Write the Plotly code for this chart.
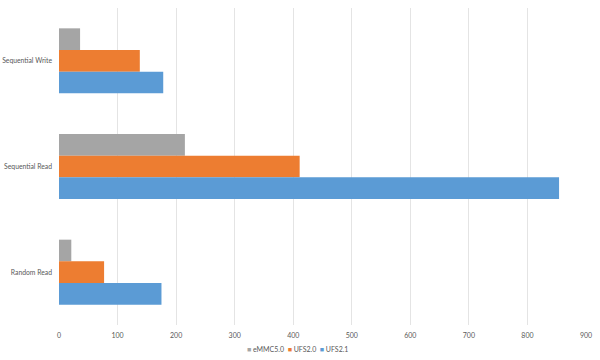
import plotly.graph_objects as go

categories = ["Sequential Write", "Sequential Read", "Random Read"]
emmc50 = [36, 215, 21]
ufs20 = [138, 411, 77]
ufs21 = [178, 854, 175]
series_names = ["eMMC5.0", "UFS2.0", "UFS2.1"]
colors = ["#A5A5A5", "#ED7D31", "#5B9BD5"]

fig = go.Figure()
for name, vals, col in zip(series_names, [emmc50, ufs20, ufs21], colors):
    fig.add_trace(go.Bar(y=categories, x=vals, name=name, orientation="h",
                         marker=dict(color=col, line=dict(width=0))))

legend_text = "&nbsp;&nbsp;".join(
    f"<span style='color:{c}'>■</span> {n}" for n, c in zip(series_names, colors))

fig.update_layout(
    width=600, height=360,
    margin=dict(l=59, r=14, t=8, b=35, autoexpand=False),
    barmode="group", bargap=0.385, bargroupgap=0,
    plot_bgcolor="white", paper_bgcolor="white",
    font=dict(family="Lato, sans-serif", size=7, color="#595959"),
    xaxis=dict(range=[0, 900], dtick=100, showgrid=True, gridcolor="#E4E4E4",
               gridwidth=1, zeroline=False, showline=False, ticks="",
               ticklabelstandoff=5, automargin=False,
               tickfont=dict(size=7, color="#595959"), fixedrange=True),
    yaxis=dict(autorange="reversed", showgrid=False, zeroline=False,
               showline=False, ticks="", ticklabelstandoff=6, automargin=False,
               tickfont=dict(size=6.8, color="#595959")),
    showlegend=False,
    annotations=[dict(text=legend_text, xref="paper", yref="paper",
                      x=(297 - 59) / 527, y=(325 - 349) / 317,
                      xanchor="center", yanchor="middle", showarrow=False,
                      font=dict(size=7, color="#595959"))],
)

fig.write_html("out.html", config={"displayModeBar": False},
               post_script="document.body.style.margin='0';document.body.style.overflow='hidden';")
